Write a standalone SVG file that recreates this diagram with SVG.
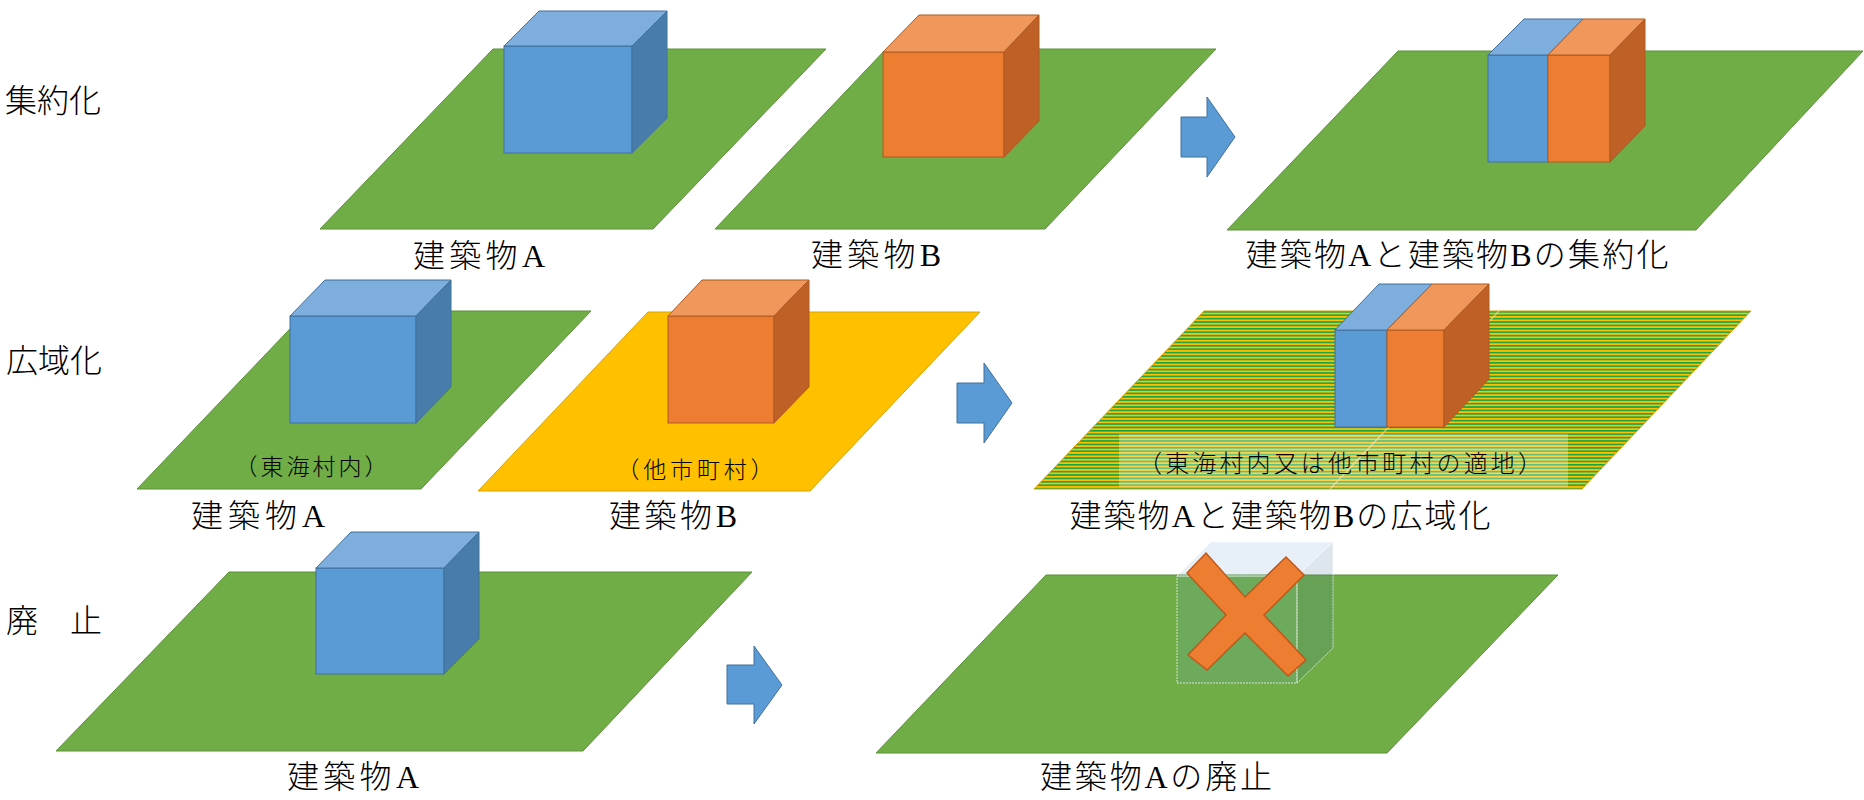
<svg xmlns="http://www.w3.org/2000/svg" width="1864" height="800" viewBox="0 0 1864 800">
  <defs>
    <style>
      .lbl { font-family: "Liberation Serif", "Noto Sans CJK JP", serif; font-size: 32px; fill: #000; font-weight: 300; }
      .row { font-family: "Noto Sans CJK JP", sans-serif; font-size: 32px; fill: #000; font-weight: 300; }
      .sub { font-family: "Noto Sans CJK JP", sans-serif; font-size: 23px; fill: #000; font-weight: 300; text-anchor: middle; }
      .mid { text-anchor: middle; }
      .plot { fill: #70AD47; stroke: #5B9138; stroke-width: 1; }
      .plot-y { fill: #FFC000; stroke: #D9A300; stroke-width: 1; }
      .b-front { fill: #5B9BD5; stroke: #41719C; stroke-width: 1; }
      .b-top { fill: #7DAEDD; stroke: #41719C; stroke-width: 1; }
      .b-side { fill: #487CAA; stroke: #41719C; stroke-width: 1; }
      .o-front { fill: #ED7D31; stroke: #AE5A21; stroke-width: 1; }
      .o-top { fill: #F0975B; stroke: #AE5A21; stroke-width: 1; }
      .o-side { fill: #BF6127; stroke: #AE5A21; stroke-width: 1; }
      .arrow { fill: #5B9BD5; stroke: #41719C; stroke-width: 1; }
      .ghost { fill: #5B9BD5; fill-opacity: 0.15; stroke: #FFFFFF; stroke-opacity: 0.7; stroke-width: 1; stroke-dasharray: 2 1; }
      .ghost-side { fill: #41719C; fill-opacity: 0.18; stroke: #FFFFFF; stroke-opacity: 0.7; stroke-width: 1; stroke-dasharray: 2 1; }
    </style>
    <!-- mixed site: thin green / yellow horizontal stripes -->
    <pattern id="stripes" patternUnits="userSpaceOnUse" x="0" y="311" width="20" height="3.4">
      <rect width="20" height="3.4" fill="#FFC000"/>
      <rect width="20" height="1.6" fill="#13A54A"/>
    </pattern>
  </defs>

  <rect width="1864" height="800" fill="#FFFFFF"/>

  <!-- row titles -->
  <g id="title-consolidation"><text class="row" x="5" y="112">集約化</text></g>
  <g id="title-wide-area"><text class="row" x="6" y="372">広域化</text></g>
  <g id="title-abolition"><text class="row" x="6" y="632">廃　止</text></g>

  <!-- row 1: consolidation -->
  <g id="r1-building-a">
    <polygon class="plot" points="493,49 826,49 653,229 320,229"/>
    <rect class="b-front" x="504" y="46" width="128" height="107"/>
    <polygon class="b-top" points="504,46 539,11 667,11 632,46"/>
    <polygon class="b-side" points="632,46 667,11 667,118 632,153"/>
    <text class="lbl mid" x="479" y="267" textLength="132" lengthAdjust="spacing">建築物A</text>
  </g>
  <g id="r1-building-b">
    <polygon class="plot" points="886,49 1216,49 1045,229 715,229"/>
    <rect class="o-front" x="883" y="52" width="121" height="105"/>
    <polygon class="o-top" points="883,52 919,15 1039,15 1004,52"/>
    <polygon class="o-side" points="1004,52 1039,15 1039,121 1004,157"/>
    <text class="lbl mid" x="876" y="266" textLength="130" lengthAdjust="spacing">建築物B</text>
  </g>
  <g id="r1-result">
    <polygon class="plot" points="1398,51 1863,51 1696,230 1227,230"/>
    <rect class="b-front" x="1488" y="55" width="60" height="107"/>
    <rect class="o-front" x="1548" y="55" width="62" height="107"/>
    <polygon class="b-top" points="1488,55 1524,19 1583,19 1548,55"/>
    <polygon class="o-top" points="1548,55 1583,19 1645,19 1610,55"/>
    <polygon class="o-side" points="1610,55 1645,19 1645,126 1610,162"/>
    <text class="lbl mid" x="1457" y="266" textLength="423" lengthAdjust="spacing">建築物Aと建築物Bの集約化</text>
  </g>

  <!-- row 2: wide-area -->
  <g id="r2-building-a">
    <polygon class="plot" points="307,311 591,311 421,489 137,489"/>
    <rect class="b-front" x="290" y="316" width="126" height="107"/>
    <polygon class="b-top" points="290,316 325,280 451,280 416,316"/>
    <polygon class="b-side" points="416,316 451,280 451,387 416,423"/>
    <text class="sub" x="311" y="475" textLength="153" lengthAdjust="spacing">（東海村内）</text>
    <text class="lbl mid" x="258" y="527" textLength="134" lengthAdjust="spacing">建築物A</text>
  </g>
  <g id="r2-building-b">
    <polygon class="plot-y" points="648,312 980,312 810,491 478,491"/>
    <rect class="o-front" x="668" y="316" width="106" height="107"/>
    <polygon class="o-top" points="668,316 702,280 809,280 774,316"/>
    <polygon class="o-side" points="774,316 809,280 809,387 774,423"/>
    <text class="sub" x="695" y="478" textLength="157" lengthAdjust="spacing">（他市町村）</text>
    <text class="lbl mid" x="673" y="527" textLength="128" lengthAdjust="spacing">建築物B</text>
  </g>
  <g id="r2-result">
    <polygon points="1204,311 1751,311 1582,489 1034,489" fill="url(#stripes)" stroke="#D9A300" stroke-width="1"/>
    <line x1="1499" y1="311" x2="1330" y2="489" stroke="#F3D98A" stroke-opacity="0.7" stroke-width="1.5"/>
    <rect class="b-front" x="1335" y="330" width="52" height="97"/>
    <rect class="o-front" x="1387" y="330" width="57" height="97"/>
    <polygon class="b-top" points="1335,330 1379,284 1432,284 1387,330"/>
    <polygon class="o-top" points="1387,330 1432,284 1489,284 1444,330"/>
    <polygon class="o-side" points="1444,330 1489,284 1489,379 1444,427"/>
    <rect x="1119" y="434" width="449" height="53" fill="#FFFFFF" fill-opacity="0.3"/>
    <text class="sub" x="1340" y="472" style="font-size:24px" textLength="404" lengthAdjust="spacing">（東海村内又は他市町村の適地）</text>
    <text class="lbl mid" x="1280" y="527" textLength="421" lengthAdjust="spacing">建築物Aと建築物Bの広域化</text>
  </g>

  <!-- row 3: abolition -->
  <g id="r3-building-a">
    <polygon class="plot" points="229,572 752,572 583,751 56,751"/>
    <rect class="b-front" x="316" y="568" width="128" height="106"/>
    <polygon class="b-top" points="316,568 351,532 479,532 444,568"/>
    <polygon class="b-side" points="444,568 479,532 479,639 444,674"/>
    <text class="lbl mid" x="353" y="788" textLength="132" lengthAdjust="spacing">建築物A</text>
  </g>
  <g id="r3-result">
    <polygon class="plot" points="1046,575 1558,575 1387,753 876,753"/>
    <rect class="ghost" x="1177" y="576" width="120" height="107"/>
    <polygon class="ghost" points="1177,576 1211,542 1333,542 1297,576"/>
    <polygon class="ghost-side" points="1297,576 1333,542 1333,648 1297,683"/>
    <polygon points="1187,573 1206,553 1245,597 1286,557 1304,575 1264,615 1306,660 1288,676 1245,633 1207,670 1188,655 1226,615" fill="#ED7D31" stroke="#C0581A" stroke-width="1.5"/>
    <text class="lbl mid" x="1156" y="788" textLength="232" lengthAdjust="spacing">建築物Aの廃止</text>
  </g>

  <!-- transition arrows -->
  <g id="connectors">
    <path class="arrow" d="M1181,117 H1207 V97 L1235,137 L1207,177 V157 H1181 Z"/>
    <path class="arrow" d="M957,383 H984 V363 L1012,403 L984,443 V423 H957 Z"/>
    <path class="arrow" d="M727,665 H754 V646 L782,685 L754,724 V704 H727 Z"/>
  </g>
</svg>
